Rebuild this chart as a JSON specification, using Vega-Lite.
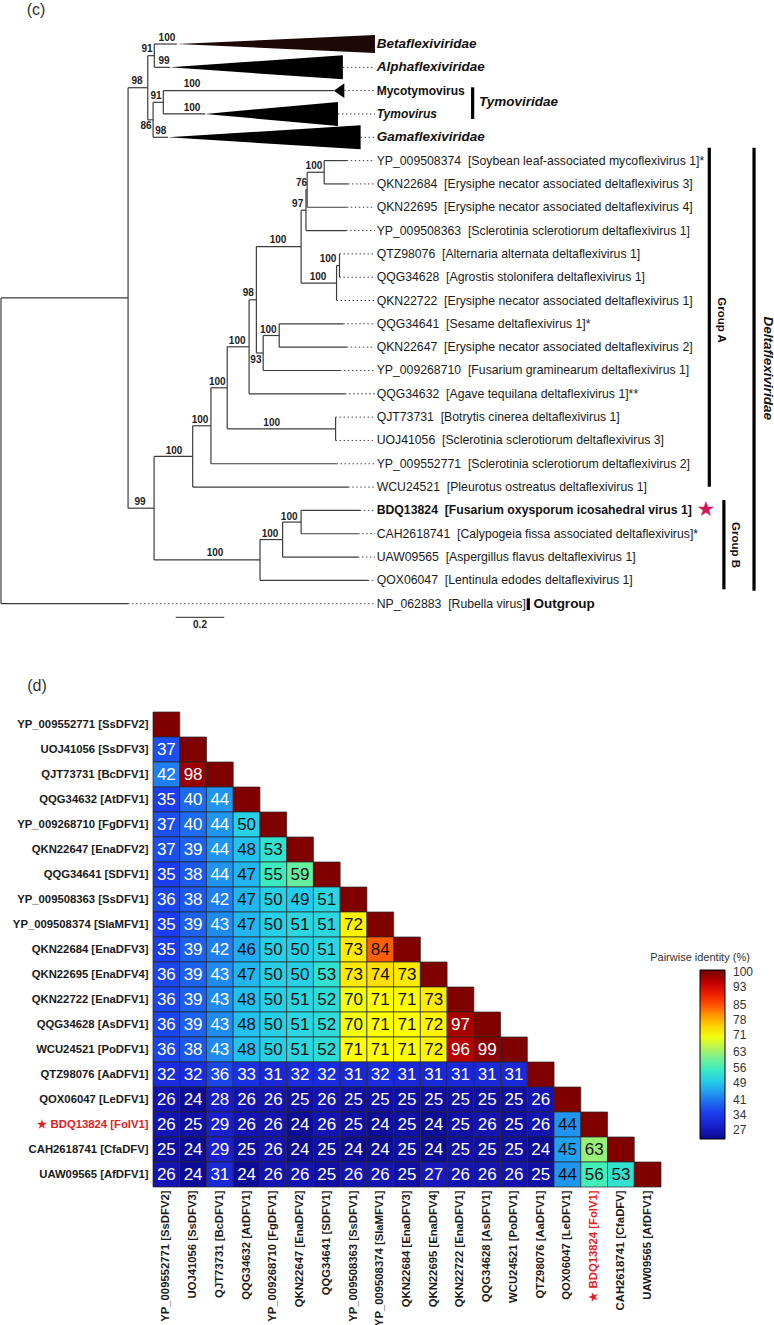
{
"$schema": "https://vega.github.io/schema/vega-lite/v6.json",
"padding": 0,
"autosize": {"type": "pad"},
"background": "white",
"spacing": 11,
"config": {"view": {"stroke": null}, "font": "Liberation Sans"},
"datasets": {
"edges": [
{"x":0,"x2":0,"y":11.89,"y2":25},{"x":0,"x2":0.523,"y":11.89,"y2":11.89},{"x":0,"x2":0.523,"y":25,"y2":25},
{"x":0.523,"x2":0.523,"y":2.875,"y2":20.905},{"x":0.523,"x2":0.604,"y":2.875,"y2":2.875},{"x":0.523,"x2":0.630,"y":20.905,"y2":20.905},
{"x":0.604,"x2":0.604,"y":1.5,"y2":4.25},{"x":0.604,"x2":0.631,"y":1.5,"y2":1.5},{"x":0.604,"x2":0.626,"y":4.25,"y2":4.25},
{"x":0.631,"x2":0.631,"y":1,"y2":2},{"x":0.631,"x2":0.724,"y":1,"y2":1},{"x":0.631,"x2":0.695,"y":2,"y2":2},
{"x":0.626,"x2":0.626,"y":3.5,"y2":5},{"x":0.626,"x2":0.668,"y":3.5,"y2":3.5},{"x":0.626,"x2":0.687,"y":5,"y2":5},
{"x":0.668,"x2":0.668,"y":3,"y2":4},{"x":0.668,"x2":1.370,"y":3,"y2":3},{"x":0.668,"x2":0.840,"y":4,"y2":4},
{"x":0.630,"x2":0.630,"y":18.686,"y2":23.125},{"x":0.630,"x2":0.789,"y":18.686,"y2":18.686},{"x":0.630,"x2":1.066,"y":23.125,"y2":23.125},
{"x":0.789,"x2":0.789,"y":17.371,"y2":20},{"x":0.789,"x2":0.864,"y":17.371,"y2":17.371},{"x":0.789,"x2":1.429,"y":20,"y2":20},
{"x":0.864,"x2":0.864,"y":15.742,"y2":19},{"x":0.864,"x2":0.931,"y":15.742,"y2":15.742},{"x":0.864,"x2":1.381,"y":19,"y2":19},
{"x":0.931,"x2":0.931,"y":13.984,"y2":17.5},{"x":0.931,"x2":1.021,"y":13.984,"y2":13.984},{"x":0.931,"x2":1.377,"y":17.5,"y2":17.5},
{"x":1.377,"x2":1.377,"y":17,"y2":18},
{"x":1.021,"x2":1.021,"y":11.969,"y2":16},{"x":1.021,"x2":1.051,"y":11.969,"y2":11.969},{"x":1.021,"x2":1.416,"y":16,"y2":16},
{"x":1.051,"x2":1.051,"y":9.688,"y2":14.25},{"x":1.051,"x2":1.235,"y":9.688,"y2":9.688},{"x":1.051,"x2":1.079,"y":14.25,"y2":14.25},
{"x":1.235,"x2":1.235,"y":8.125,"y2":11.25},{"x":1.235,"x2":1.255,"y":8.125,"y2":8.125},{"x":1.235,"x2":1.381,"y":11.25,"y2":11.25},
{"x":1.255,"x2":1.255,"y":7.25,"y2":9},{"x":1.255,"x2":1.260,"y":7.25,"y2":7.25},{"x":1.255,"x2":1.420,"y":9,"y2":9},
{"x":1.260,"x2":1.260,"y":6.5,"y2":8},{"x":1.260,"x2":1.330,"y":6.5,"y2":6.5},{"x":1.260,"x2":1.423,"y":8,"y2":8},
{"x":1.330,"x2":1.330,"y":6,"y2":7},{"x":1.330,"x2":1.423,"y":6,"y2":6},{"x":1.330,"x2":1.428,"y":7,"y2":7},
{"x":1.381,"x2":1.381,"y":10.5,"y2":12},{"x":1.381,"x2":1.393,"y":10.5,"y2":10.5},
{"x":1.393,"x2":1.393,"y":10,"y2":11},
{"x":1.079,"x2":1.079,"y":13.5,"y2":15},{"x":1.079,"x2":1.145,"y":13.5,"y2":13.5},{"x":1.079,"x2":1.395,"y":15,"y2":15},
{"x":1.145,"x2":1.145,"y":13,"y2":14},{"x":1.145,"x2":1.409,"y":13,"y2":13},{"x":1.145,"x2":1.423,"y":14,"y2":14},
{"x":1.066,"x2":1.066,"y":22.25,"y2":24},{"x":1.066,"x2":1.159,"y":22.25,"y2":22.25},{"x":1.066,"x2":1.510,"y":24,"y2":24},
{"x":1.159,"x2":1.159,"y":21.5,"y2":23},{"x":1.159,"x2":1.235,"y":21.5,"y2":21.5},{"x":1.159,"x2":1.469,"y":23,"y2":23},
{"x":1.235,"x2":1.235,"y":21,"y2":22},{"x":1.235,"x2":1.477,"y":21,"y2":21},{"x":1.235,"x2":1.470,"y":22,"y2":22}
],
"leaders": [
{"y":2,"x":1.407,"x2":1.539},{"y":3,"x":1.413,"x2":1.539},{"y":4,"x":1.387,"x2":1.539},{"y":5,"x":1.480,"x2":1.539},
{"y":6,"x":1.423,"x2":1.539},{"y":7,"x":1.428,"x2":1.539},{"y":8,"x":1.423,"x2":1.539},{"y":9,"x":1.420,"x2":1.539},
{"y":10,"x":1.393,"x2":1.539},{"y":11,"x":1.393,"x2":1.539},{"y":12,"x":1.381,"x2":1.539},{"y":13,"x":1.409,"x2":1.539},
{"y":14,"x":1.423,"x2":1.539},{"y":15,"x":1.395,"x2":1.539},{"y":16,"x":1.416,"x2":1.539},{"y":17,"x":1.377,"x2":1.539},
{"y":18,"x":1.377,"x2":1.539},{"y":19,"x":1.381,"x2":1.539},{"y":20,"x":1.429,"x2":1.539},{"y":21,"x":1.477,"x2":1.539},
{"y":22,"x":1.470,"x2":1.539},{"y":23,"x":1.469,"x2":1.539},{"y":24,"x":1.510,"x2":1.539},{"y":25,"x":0.523,"x2":1.539}
],
"clades": [
{"clade":"Betaflexiviridae","x":0.724,"y":1,"y2":1},{"clade":"Betaflexiviridae","x":1.539,"y":0.614,"y2":1.386},
{"clade":"Alphaflexiviridae","x":0.695,"y":2,"y2":2},{"clade":"Alphaflexiviridae","x":1.407,"y":1.485,"y2":2.515},
{"clade":"Mycotymovirus","x":1.370,"y":3,"y2":3},{"clade":"Mycotymovirus","x":1.413,"y":2.685,"y2":3.315},
{"clade":"Tymovirus","x":0.840,"y":4,"y2":4},{"clade":"Tymovirus","x":1.387,"y":3.485,"y2":4.515},
{"clade":"Gamaflexiviridae","x":0.687,"y":5,"y2":5},{"clade":"Gamaflexiviridae","x":1.480,"y":4.485,"y2":5.515}
],
"support": [
{"x":0.683,"y":0.743,"label":"100"},{"x":0.671,"y":1.729,"label":"99"},{"x":0.601,"y":1.214,"label":"91"},
{"x":0.560,"y":2.587,"label":"98"},{"x":0.786,"y":2.715,"label":"100"},{"x":0.638,"y":3.230,"label":"91"},
{"x":0.786,"y":3.744,"label":"100"},{"x":0.597,"y":4.516,"label":"86"},{"x":0.658,"y":4.731,"label":"98"},
{"x":1.288,"y":6.232,"label":"100"},{"x":1.237,"y":6.973,"label":"76"},{"x":1.221,"y":7.861,"label":"97"},
{"x":1.140,"y":9.405,"label":"100"},{"x":1.346,"y":10.220,"label":"100"},{"x":1.305,"y":10.991,"label":"100"},
{"x":1.018,"y":11.690,"label":"98"},{"x":1.100,"y":13.264,"label":"100"},{"x":0.972,"y":13.723,"label":"100"},
{"x":1.049,"y":14.551,"label":"93"},{"x":0.890,"y":15.507,"label":"100"},{"x":0.819,"y":17.123,"label":"100"},
{"x":1.114,"y":17.239,"label":"100"},{"x":0.712,"y":18.440,"label":"100"},{"x":0.572,"y":20.627,"label":"99"},
{"x":1.186,"y":21.270,"label":"100"},{"x":1.107,"y":22.012,"label":"100"},{"x":0.881,"y":22.840,"label":"100"}
],
"leaves": [
{"y":1,"x":1.546,"kind":"family","label":"Betaflexiviridae"},
{"y":2,"x":1.546,"kind":"family","label":"Alphaflexiviridae"},
{"y":3,"x":1.546,"kind":"genus","label":"Mycotymovirus"},
{"y":4,"x":1.546,"kind":"genus-italic","label":"Tymovirus"},
{"y":5,"x":1.546,"kind":"family","label":"Gamaflexiviridae"},
{"y":6,"x":1.546,"kind":"sequence","label":"YP_009508374\u00a0\u00a0[Soybean leaf-associated mycoflexivirus 1]*"},
{"y":7,"x":1.546,"kind":"sequence","label":"QKN22684\u00a0\u00a0[Erysiphe necator associated deltaflexivirus 3]"},
{"y":8,"x":1.546,"kind":"sequence","label":"QKN22695\u00a0\u00a0[Erysiphe necator associated deltaflexivirus 4]"},
{"y":9,"x":1.546,"kind":"sequence","label":"YP_009508363\u00a0\u00a0[Sclerotinia sclerotiorum deltaflexivirus 1]"},
{"y":10,"x":1.546,"kind":"sequence","label":"QTZ98076\u00a0\u00a0[Alternaria alternata deltaflexivirus 1]"},
{"y":11,"x":1.546,"kind":"sequence","label":"QQG34628\u00a0\u00a0[Agrostis stolonifera deltaflexivirus 1]"},
{"y":12,"x":1.546,"kind":"sequence","label":"QKN22722\u00a0\u00a0[Erysiphe necator associated deltaflexivirus 1]"},
{"y":13,"x":1.546,"kind":"sequence","label":"QQG34641\u00a0\u00a0[Sesame deltaflexivirus 1]*"},
{"y":14,"x":1.546,"kind":"sequence","label":"QKN22647\u00a0\u00a0[Erysiphe necator associated deltaflexivirus 2]"},
{"y":15,"x":1.546,"kind":"sequence","label":"YP_009268710\u00a0\u00a0[Fusarium graminearum deltaflexivirus 1]"},
{"y":16,"x":1.546,"kind":"sequence","label":"QQG34632\u00a0\u00a0[Agave tequilana deltaflexivirus 1]**"},
{"y":17,"x":1.546,"kind":"sequence","label":"QJT73731\u00a0\u00a0[Botrytis cinerea deltaflexivirus 1]"},
{"y":18,"x":1.546,"kind":"sequence","label":"UOJ41056\u00a0\u00a0[Sclerotinia sclerotiorum deltaflexivirus 3]"},
{"y":19,"x":1.546,"kind":"sequence","label":"YP_009552771\u00a0\u00a0[Sclerotinia sclerotiorum deltaflexivirus 2]"},
{"y":20,"x":1.546,"kind":"sequence","label":"WCU24521\u00a0\u00a0[Pleurotus ostreatus deltaflexivirus 1]"},
{"y":21,"x":1.546,"kind":"query","label":"BDQ13824\u00a0\u00a0[Fusarium oxysporum icosahedral virus 1]"},
{"y":22,"x":1.546,"kind":"sequence","label":"CAH2618741\u00a0\u00a0[Calypogeia fissa associated deltaflexivirus]*"},
{"y":23,"x":1.546,"kind":"sequence","label":"UAW09565\u00a0\u00a0[Aspergillus flavus deltaflexivirus 1]"},
{"y":24,"x":1.546,"kind":"sequence","label":"QOX06047\u00a0\u00a0[Lentinula edodes deltaflexivirus 1]"},
{"y":25,"x":1.546,"kind":"sequence","label":"NP_062883\u00a0\u00a0[Rubella virus]"}
],
"bars": [
{"group":"Tymoviridae","x":1.941,"y":2.857,"y2":4.216},
{"group":"Group A","x":2.915,"y":5.447,"y2":19.984},
{"group":"Group B","x":2.975,"y":20.554,"y2":24.384},
{"group":"Deltaflexiviridae","x":3.099,"y":5.447,"y2":24.444},
{"group":"Outgroup","x":2.170,"y":24.77,"y2":25.27}
],
"pid": [
{"r":"YP_009552771 [SsDFV2]","c":"YP_009552771 [SsDFV2]","v":100},
{"r":"UOJ41056 [SsDFV3]","c":"YP_009552771 [SsDFV2]","v":37},{"r":"UOJ41056 [SsDFV3]","c":"UOJ41056 [SsDFV3]","v":100},
{"r":"QJT73731 [BcDFV1]","c":"YP_009552771 [SsDFV2]","v":42},{"r":"QJT73731 [BcDFV1]","c":"UOJ41056 [SsDFV3]","v":98},{"r":"QJT73731 [BcDFV1]","c":"QJT73731 [BcDFV1]","v":100},
{"r":"QQG34632 [AtDFV1]","c":"YP_009552771 [SsDFV2]","v":35},{"r":"QQG34632 [AtDFV1]","c":"UOJ41056 [SsDFV3]","v":40},{"r":"QQG34632 [AtDFV1]","c":"QJT73731 [BcDFV1]","v":44},{"r":"QQG34632 [AtDFV1]","c":"QQG34632 [AtDFV1]","v":100},
{"r":"YP_009268710 [FgDFV1]","c":"YP_009552771 [SsDFV2]","v":37},{"r":"YP_009268710 [FgDFV1]","c":"UOJ41056 [SsDFV3]","v":40},{"r":"YP_009268710 [FgDFV1]","c":"QJT73731 [BcDFV1]","v":44},{"r":"YP_009268710 [FgDFV1]","c":"QQG34632 [AtDFV1]","v":50},{"r":"YP_009268710 [FgDFV1]","c":"YP_009268710 [FgDFV1]","v":100},
{"r":"QKN22647 [EnaDFV2]","c":"YP_009552771 [SsDFV2]","v":37},{"r":"QKN22647 [EnaDFV2]","c":"UOJ41056 [SsDFV3]","v":39},{"r":"QKN22647 [EnaDFV2]","c":"QJT73731 [BcDFV1]","v":44},{"r":"QKN22647 [EnaDFV2]","c":"QQG34632 [AtDFV1]","v":48},{"r":"QKN22647 [EnaDFV2]","c":"YP_009268710 [FgDFV1]","v":53},{"r":"QKN22647 [EnaDFV2]","c":"QKN22647 [EnaDFV2]","v":100},
{"r":"QQG34641 [SDFV1]","c":"YP_009552771 [SsDFV2]","v":35},{"r":"QQG34641 [SDFV1]","c":"UOJ41056 [SsDFV3]","v":38},{"r":"QQG34641 [SDFV1]","c":"QJT73731 [BcDFV1]","v":44},{"r":"QQG34641 [SDFV1]","c":"QQG34632 [AtDFV1]","v":47},{"r":"QQG34641 [SDFV1]","c":"YP_009268710 [FgDFV1]","v":55},{"r":"QQG34641 [SDFV1]","c":"QKN22647 [EnaDFV2]","v":59},{"r":"QQG34641 [SDFV1]","c":"QQG34641 [SDFV1]","v":100},
{"r":"YP_009508363 [SsDFV1]","c":"YP_009552771 [SsDFV2]","v":36},{"r":"YP_009508363 [SsDFV1]","c":"UOJ41056 [SsDFV3]","v":38},{"r":"YP_009508363 [SsDFV1]","c":"QJT73731 [BcDFV1]","v":42},{"r":"YP_009508363 [SsDFV1]","c":"QQG34632 [AtDFV1]","v":47},{"r":"YP_009508363 [SsDFV1]","c":"YP_009268710 [FgDFV1]","v":50},{"r":"YP_009508363 [SsDFV1]","c":"QKN22647 [EnaDFV2]","v":49},{"r":"YP_009508363 [SsDFV1]","c":"QQG34641 [SDFV1]","v":51},{"r":"YP_009508363 [SsDFV1]","c":"YP_009508363 [SsDFV1]","v":100},
{"r":"YP_009508374 [SlaMFV1]","c":"YP_009552771 [SsDFV2]","v":35},{"r":"YP_009508374 [SlaMFV1]","c":"UOJ41056 [SsDFV3]","v":39},{"r":"YP_009508374 [SlaMFV1]","c":"QJT73731 [BcDFV1]","v":43},{"r":"YP_009508374 [SlaMFV1]","c":"QQG34632 [AtDFV1]","v":47},{"r":"YP_009508374 [SlaMFV1]","c":"YP_009268710 [FgDFV1]","v":50},{"r":"YP_009508374 [SlaMFV1]","c":"QKN22647 [EnaDFV2]","v":51},{"r":"YP_009508374 [SlaMFV1]","c":"QQG34641 [SDFV1]","v":51},{"r":"YP_009508374 [SlaMFV1]","c":"YP_009508363 [SsDFV1]","v":72},{"r":"YP_009508374 [SlaMFV1]","c":"YP_009508374 [SlaMFV1]","v":100},
{"r":"QKN22684 [EnaDFV3]","c":"YP_009552771 [SsDFV2]","v":35},{"r":"QKN22684 [EnaDFV3]","c":"UOJ41056 [SsDFV3]","v":39},{"r":"QKN22684 [EnaDFV3]","c":"QJT73731 [BcDFV1]","v":42},{"r":"QKN22684 [EnaDFV3]","c":"QQG34632 [AtDFV1]","v":46},{"r":"QKN22684 [EnaDFV3]","c":"YP_009268710 [FgDFV1]","v":50},{"r":"QKN22684 [EnaDFV3]","c":"QKN22647 [EnaDFV2]","v":50},{"r":"QKN22684 [EnaDFV3]","c":"QQG34641 [SDFV1]","v":51},{"r":"QKN22684 [EnaDFV3]","c":"YP_009508363 [SsDFV1]","v":73},{"r":"QKN22684 [EnaDFV3]","c":"YP_009508374 [SlaMFV1]","v":84},{"r":"QKN22684 [EnaDFV3]","c":"QKN22684 [EnaDFV3]","v":100},
{"r":"QKN22695 [EnaDFV4]","c":"YP_009552771 [SsDFV2]","v":36},{"r":"QKN22695 [EnaDFV4]","c":"UOJ41056 [SsDFV3]","v":39},{"r":"QKN22695 [EnaDFV4]","c":"QJT73731 [BcDFV1]","v":43},{"r":"QKN22695 [EnaDFV4]","c":"QQG34632 [AtDFV1]","v":47},{"r":"QKN22695 [EnaDFV4]","c":"YP_009268710 [FgDFV1]","v":50},{"r":"QKN22695 [EnaDFV4]","c":"QKN22647 [EnaDFV2]","v":50},{"r":"QKN22695 [EnaDFV4]","c":"QQG34641 [SDFV1]","v":53},{"r":"QKN22695 [EnaDFV4]","c":"YP_009508363 [SsDFV1]","v":73},{"r":"QKN22695 [EnaDFV4]","c":"YP_009508374 [SlaMFV1]","v":74},{"r":"QKN22695 [EnaDFV4]","c":"QKN22684 [EnaDFV3]","v":73},{"r":"QKN22695 [EnaDFV4]","c":"QKN22695 [EnaDFV4]","v":100},
{"r":"QKN22722 [EnaDFV1]","c":"YP_009552771 [SsDFV2]","v":36},{"r":"QKN22722 [EnaDFV1]","c":"UOJ41056 [SsDFV3]","v":39},{"r":"QKN22722 [EnaDFV1]","c":"QJT73731 [BcDFV1]","v":43},{"r":"QKN22722 [EnaDFV1]","c":"QQG34632 [AtDFV1]","v":48},{"r":"QKN22722 [EnaDFV1]","c":"YP_009268710 [FgDFV1]","v":50},{"r":"QKN22722 [EnaDFV1]","c":"QKN22647 [EnaDFV2]","v":51},{"r":"QKN22722 [EnaDFV1]","c":"QQG34641 [SDFV1]","v":52},{"r":"QKN22722 [EnaDFV1]","c":"YP_009508363 [SsDFV1]","v":70},{"r":"QKN22722 [EnaDFV1]","c":"YP_009508374 [SlaMFV1]","v":71},{"r":"QKN22722 [EnaDFV1]","c":"QKN22684 [EnaDFV3]","v":71},{"r":"QKN22722 [EnaDFV1]","c":"QKN22695 [EnaDFV4]","v":73},{"r":"QKN22722 [EnaDFV1]","c":"QKN22722 [EnaDFV1]","v":100},
{"r":"QQG34628 [AsDFV1]","c":"YP_009552771 [SsDFV2]","v":36},{"r":"QQG34628 [AsDFV1]","c":"UOJ41056 [SsDFV3]","v":39},{"r":"QQG34628 [AsDFV1]","c":"QJT73731 [BcDFV1]","v":43},{"r":"QQG34628 [AsDFV1]","c":"QQG34632 [AtDFV1]","v":48},{"r":"QQG34628 [AsDFV1]","c":"YP_009268710 [FgDFV1]","v":50},{"r":"QQG34628 [AsDFV1]","c":"QKN22647 [EnaDFV2]","v":51},{"r":"QQG34628 [AsDFV1]","c":"QQG34641 [SDFV1]","v":52},{"r":"QQG34628 [AsDFV1]","c":"YP_009508363 [SsDFV1]","v":70},{"r":"QQG34628 [AsDFV1]","c":"YP_009508374 [SlaMFV1]","v":71},{"r":"QQG34628 [AsDFV1]","c":"QKN22684 [EnaDFV3]","v":71},{"r":"QQG34628 [AsDFV1]","c":"QKN22695 [EnaDFV4]","v":72},{"r":"QQG34628 [AsDFV1]","c":"QKN22722 [EnaDFV1]","v":97},{"r":"QQG34628 [AsDFV1]","c":"QQG34628 [AsDFV1]","v":100},
{"r":"WCU24521 [PoDFV1]","c":"YP_009552771 [SsDFV2]","v":36},{"r":"WCU24521 [PoDFV1]","c":"UOJ41056 [SsDFV3]","v":38},{"r":"WCU24521 [PoDFV1]","c":"QJT73731 [BcDFV1]","v":43},{"r":"WCU24521 [PoDFV1]","c":"QQG34632 [AtDFV1]","v":48},{"r":"WCU24521 [PoDFV1]","c":"YP_009268710 [FgDFV1]","v":50},{"r":"WCU24521 [PoDFV1]","c":"QKN22647 [EnaDFV2]","v":51},{"r":"WCU24521 [PoDFV1]","c":"QQG34641 [SDFV1]","v":52},{"r":"WCU24521 [PoDFV1]","c":"YP_009508363 [SsDFV1]","v":71},{"r":"WCU24521 [PoDFV1]","c":"YP_009508374 [SlaMFV1]","v":71},{"r":"WCU24521 [PoDFV1]","c":"QKN22684 [EnaDFV3]","v":71},{"r":"WCU24521 [PoDFV1]","c":"QKN22695 [EnaDFV4]","v":72},{"r":"WCU24521 [PoDFV1]","c":"QKN22722 [EnaDFV1]","v":96},{"r":"WCU24521 [PoDFV1]","c":"QQG34628 [AsDFV1]","v":99},{"r":"WCU24521 [PoDFV1]","c":"WCU24521 [PoDFV1]","v":100},
{"r":"QTZ98076 [AaDFV1]","c":"YP_009552771 [SsDFV2]","v":32},{"r":"QTZ98076 [AaDFV1]","c":"UOJ41056 [SsDFV3]","v":32},{"r":"QTZ98076 [AaDFV1]","c":"QJT73731 [BcDFV1]","v":36},{"r":"QTZ98076 [AaDFV1]","c":"QQG34632 [AtDFV1]","v":33},{"r":"QTZ98076 [AaDFV1]","c":"YP_009268710 [FgDFV1]","v":31},{"r":"QTZ98076 [AaDFV1]","c":"QKN22647 [EnaDFV2]","v":32},{"r":"QTZ98076 [AaDFV1]","c":"QQG34641 [SDFV1]","v":32},{"r":"QTZ98076 [AaDFV1]","c":"YP_009508363 [SsDFV1]","v":31},{"r":"QTZ98076 [AaDFV1]","c":"YP_009508374 [SlaMFV1]","v":32},{"r":"QTZ98076 [AaDFV1]","c":"QKN22684 [EnaDFV3]","v":31},{"r":"QTZ98076 [AaDFV1]","c":"QKN22695 [EnaDFV4]","v":31},{"r":"QTZ98076 [AaDFV1]","c":"QKN22722 [EnaDFV1]","v":31},{"r":"QTZ98076 [AaDFV1]","c":"QQG34628 [AsDFV1]","v":31},{"r":"QTZ98076 [AaDFV1]","c":"WCU24521 [PoDFV1]","v":31},{"r":"QTZ98076 [AaDFV1]","c":"QTZ98076 [AaDFV1]","v":100},
{"r":"QOX06047 [LeDFV1]","c":"YP_009552771 [SsDFV2]","v":26},{"r":"QOX06047 [LeDFV1]","c":"UOJ41056 [SsDFV3]","v":24},{"r":"QOX06047 [LeDFV1]","c":"QJT73731 [BcDFV1]","v":28},{"r":"QOX06047 [LeDFV1]","c":"QQG34632 [AtDFV1]","v":26},{"r":"QOX06047 [LeDFV1]","c":"YP_009268710 [FgDFV1]","v":26},{"r":"QOX06047 [LeDFV1]","c":"QKN22647 [EnaDFV2]","v":25},{"r":"QOX06047 [LeDFV1]","c":"QQG34641 [SDFV1]","v":26},{"r":"QOX06047 [LeDFV1]","c":"YP_009508363 [SsDFV1]","v":25},{"r":"QOX06047 [LeDFV1]","c":"YP_009508374 [SlaMFV1]","v":25},{"r":"QOX06047 [LeDFV1]","c":"QKN22684 [EnaDFV3]","v":25},{"r":"QOX06047 [LeDFV1]","c":"QKN22695 [EnaDFV4]","v":25},{"r":"QOX06047 [LeDFV1]","c":"QKN22722 [EnaDFV1]","v":25},{"r":"QOX06047 [LeDFV1]","c":"QQG34628 [AsDFV1]","v":25},{"r":"QOX06047 [LeDFV1]","c":"WCU24521 [PoDFV1]","v":25},{"r":"QOX06047 [LeDFV1]","c":"QTZ98076 [AaDFV1]","v":26},{"r":"QOX06047 [LeDFV1]","c":"QOX06047 [LeDFV1]","v":100},
{"r":"★ BDQ13824 [FolV1]","c":"YP_009552771 [SsDFV2]","v":26},{"r":"★ BDQ13824 [FolV1]","c":"UOJ41056 [SsDFV3]","v":25},{"r":"★ BDQ13824 [FolV1]","c":"QJT73731 [BcDFV1]","v":29},{"r":"★ BDQ13824 [FolV1]","c":"QQG34632 [AtDFV1]","v":26},{"r":"★ BDQ13824 [FolV1]","c":"YP_009268710 [FgDFV1]","v":26},{"r":"★ BDQ13824 [FolV1]","c":"QKN22647 [EnaDFV2]","v":24},{"r":"★ BDQ13824 [FolV1]","c":"QQG34641 [SDFV1]","v":26},{"r":"★ BDQ13824 [FolV1]","c":"YP_009508363 [SsDFV1]","v":25},{"r":"★ BDQ13824 [FolV1]","c":"YP_009508374 [SlaMFV1]","v":24},{"r":"★ BDQ13824 [FolV1]","c":"QKN22684 [EnaDFV3]","v":25},{"r":"★ BDQ13824 [FolV1]","c":"QKN22695 [EnaDFV4]","v":24},{"r":"★ BDQ13824 [FolV1]","c":"QKN22722 [EnaDFV1]","v":25},{"r":"★ BDQ13824 [FolV1]","c":"QQG34628 [AsDFV1]","v":26},{"r":"★ BDQ13824 [FolV1]","c":"WCU24521 [PoDFV1]","v":25},{"r":"★ BDQ13824 [FolV1]","c":"QTZ98076 [AaDFV1]","v":26},{"r":"★ BDQ13824 [FolV1]","c":"QOX06047 [LeDFV1]","v":44},{"r":"★ BDQ13824 [FolV1]","c":"★ BDQ13824 [FolV1]","v":100},
{"r":"CAH2618741 [CfaDFV]","c":"YP_009552771 [SsDFV2]","v":25},{"r":"CAH2618741 [CfaDFV]","c":"UOJ41056 [SsDFV3]","v":24},{"r":"CAH2618741 [CfaDFV]","c":"QJT73731 [BcDFV1]","v":29},{"r":"CAH2618741 [CfaDFV]","c":"QQG34632 [AtDFV1]","v":25},{"r":"CAH2618741 [CfaDFV]","c":"YP_009268710 [FgDFV1]","v":26},{"r":"CAH2618741 [CfaDFV]","c":"QKN22647 [EnaDFV2]","v":24},{"r":"CAH2618741 [CfaDFV]","c":"QQG34641 [SDFV1]","v":25},{"r":"CAH2618741 [CfaDFV]","c":"YP_009508363 [SsDFV1]","v":24},{"r":"CAH2618741 [CfaDFV]","c":"YP_009508374 [SlaMFV1]","v":24},{"r":"CAH2618741 [CfaDFV]","c":"QKN22684 [EnaDFV3]","v":25},{"r":"CAH2618741 [CfaDFV]","c":"QKN22695 [EnaDFV4]","v":24},{"r":"CAH2618741 [CfaDFV]","c":"QKN22722 [EnaDFV1]","v":25},{"r":"CAH2618741 [CfaDFV]","c":"QQG34628 [AsDFV1]","v":25},{"r":"CAH2618741 [CfaDFV]","c":"WCU24521 [PoDFV1]","v":25},{"r":"CAH2618741 [CfaDFV]","c":"QTZ98076 [AaDFV1]","v":24},{"r":"CAH2618741 [CfaDFV]","c":"QOX06047 [LeDFV1]","v":45},{"r":"CAH2618741 [CfaDFV]","c":"★ BDQ13824 [FolV1]","v":63},{"r":"CAH2618741 [CfaDFV]","c":"CAH2618741 [CfaDFV]","v":100},
{"r":"UAW09565 [AfDFV1]","c":"YP_009552771 [SsDFV2]","v":26},{"r":"UAW09565 [AfDFV1]","c":"UOJ41056 [SsDFV3]","v":24},{"r":"UAW09565 [AfDFV1]","c":"QJT73731 [BcDFV1]","v":31},{"r":"UAW09565 [AfDFV1]","c":"QQG34632 [AtDFV1]","v":24},{"r":"UAW09565 [AfDFV1]","c":"YP_009268710 [FgDFV1]","v":26},{"r":"UAW09565 [AfDFV1]","c":"QKN22647 [EnaDFV2]","v":26},{"r":"UAW09565 [AfDFV1]","c":"QQG34641 [SDFV1]","v":25},{"r":"UAW09565 [AfDFV1]","c":"YP_009508363 [SsDFV1]","v":26},{"r":"UAW09565 [AfDFV1]","c":"YP_009508374 [SlaMFV1]","v":26},{"r":"UAW09565 [AfDFV1]","c":"QKN22684 [EnaDFV3]","v":25},{"r":"UAW09565 [AfDFV1]","c":"QKN22695 [EnaDFV4]","v":27},{"r":"UAW09565 [AfDFV1]","c":"QKN22722 [EnaDFV1]","v":26},{"r":"UAW09565 [AfDFV1]","c":"QQG34628 [AsDFV1]","v":26},{"r":"UAW09565 [AfDFV1]","c":"WCU24521 [PoDFV1]","v":26},{"r":"UAW09565 [AfDFV1]","c":"QTZ98076 [AaDFV1]","v":25},{"r":"UAW09565 [AfDFV1]","c":"QOX06047 [LeDFV1]","v":44},{"r":"UAW09565 [AfDFV1]","c":"★ BDQ13824 [FolV1]","v":56},{"r":"UAW09565 [AfDFV1]","c":"CAH2618741 [CfaDFV]","v":53},{"r":"UAW09565 [AfDFV1]","c":"UAW09565 [AfDFV1]","v":100}
]
},
"vconcat": [
{
"width": 621,
"height": 700,
"encoding": {
"x": {"field": "x", "type": "quantitative", "scale": {"domain": [0.6256, 3.1812], "nice": false, "zero": false}, "axis": null},
"y": {"field": "y", "type": "quantitative", "scale": {"domain": [-0.887, 29.13], "nice": false, "zero": false, "reverse": true}, "axis": null}
},
"layer": [
{"data": {"name": "clades"}, "mark": {"type": "area", "orient": "vertical", "interpolate": "linear", "clip": false},
 "encoding": {"y2": {"field": "y2"}, "detail": {"field": "clade", "type": "nominal"},
  "color": {"condition": {"test": "datum.clade === 'Betaflexiviridae'", "value": "#1e0707"}, "value": "#000000"}}},
{"data": {"name": "edges"}, "mark": {"type": "rule", "color": "#3c3c3c", "strokeWidth": 1.2, "clip": false},
 "encoding": {"x2": {"field": "x2"}, "y2": {"field": "y2"}}},
{"data": {"name": "leaders"}, "mark": {"type": "rule", "color": "#444444", "strokeWidth": 1, "strokeDash": [1.5, 2.5], "clip": false},
 "encoding": {"x2": {"field": "x2"}}},
{"data": {"name": "bars"}, "mark": {"type": "rule", "color": "#000000", "strokeWidth": 3.2},
 "encoding": {"y2": {"field": "y2"}}},
{"data": {"values": [{"x": 0.719, "x2": 0.919, "y": 25.584}]}, "mark": {"type": "rule", "color": "#555555", "strokeWidth": 1.3},
 "encoding": {"x2": {"field": "x2"}}},
{"data": {"name": "support"}, "mark": {"type": "text", "fontSize": 10, "fontWeight": "bold", "color": "#222222", "align": "center", "baseline": "middle"},
 "encoding": {"text": {"field": "label"}}},
{"data": {"name": "leaves"}, "transform": [{"filter": "datum.kind === 'sequence'"}],
 "mark": {"type": "text", "fontSize": 12.25, "color": "#1a1a1a", "align": "left", "baseline": "middle"},
 "encoding": {"text": {"field": "label"}}},
{"data": {"name": "leaves"}, "transform": [{"filter": "datum.kind === 'query'"}],
 "mark": {"type": "text", "fontSize": 12.25, "fontWeight": "bold", "color": "#111111", "align": "left", "baseline": "middle"},
 "encoding": {"text": {"field": "label"}}},
{"data": {"name": "leaves"}, "transform": [{"filter": "datum.kind === 'family'"}],
 "mark": {"type": "text", "fontSize": 13.5, "fontWeight": "bold", "fontStyle": "italic", "color": "#111111", "align": "left", "baseline": "middle"},
 "encoding": {"text": {"field": "label"}}},
{"data": {"name": "leaves"}, "transform": [{"filter": "datum.kind === 'genus'"}],
 "mark": {"type": "text", "fontSize": 12, "fontWeight": "bold", "color": "#111111", "align": "left", "baseline": "middle"},
 "encoding": {"text": {"field": "label"}}},
{"data": {"name": "leaves"}, "transform": [{"filter": "datum.kind === 'genus-italic'"}],
 "mark": {"type": "text", "fontSize": 12, "fontWeight": "bold", "fontStyle": "italic", "color": "#111111", "align": "left", "baseline": "middle"},
 "encoding": {"text": {"field": "label"}}},
{"data": {"values": [{"x": 2.901, "y": 21, "label": "★"}]},
 "mark": {"type": "text", "fontSize": 21, "font": "DejaVu Sans", "color": "#d3175b", "align": "center", "baseline": "middle"},
 "encoding": {"text": {"field": "label"}}},
{"data": {"values": [{"x": 1.967, "y": 3.474, "label": "Tymoviridae"}]},
 "mark": {"type": "text", "fontSize": 13.5, "fontWeight": "bold", "fontStyle": "italic", "color": "#111111", "align": "left", "baseline": "middle"},
 "encoding": {"text": {"field": "label"}}},
{"data": {"values": [{"x": 2.191, "y": 25.013, "label": "Outgroup"}]},
 "mark": {"type": "text", "fontSize": 13.5, "fontWeight": "bold", "color": "#111111", "align": "left", "baseline": "middle"},
 "encoding": {"text": {"field": "label"}}},
{"data": {"values": [{"x": 2.962, "y": 12.835, "label": "Group A"}, {"x": 3.021, "y": 22.484, "label": "Group B"}]},
 "mark": {"type": "text", "fontSize": 11.5, "fontWeight": "bold", "angle": 90, "color": "#111111", "align": "center", "baseline": "middle"},
 "encoding": {"text": {"field": "label"}}},
{"data": {"values": [{"x": 3.158, "y": 14.907, "label": "Deltaflexiviridae"}]},
 "mark": {"type": "text", "fontSize": 13.5, "fontWeight": "bold", "fontStyle": "italic", "angle": 90, "color": "#111111", "align": "center", "baseline": "middle"},
 "encoding": {"text": {"field": "label"}}},
{"data": {"values": [{"x": 0.819, "y": 25.914, "label": "0.2"}]},
 "mark": {"type": "text", "fontSize": 10, "fontWeight": "bold", "color": "#222222", "align": "center", "baseline": "middle"},
 "encoding": {"text": {"field": "label"}}},
{"data": {"values": [{"x": 0.144, "y": -0.479, "label": "(c)"}, {"x": 0.148, "y": 28.53, "label": "(d)"}]},
 "mark": {"type": "text", "fontSize": 16, "color": "#333333", "align": "center", "baseline": "middle"},
 "encoding": {"text": {"field": "label"}}}
]
},
{
"width": 508,
"height": 475,
"data": {"name": "pid"},
"encoding": {
"x": {"field": "c", "type": "nominal",
 "sort": ["YP_009552771 [SsDFV2]","UOJ41056 [SsDFV3]","QJT73731 [BcDFV1]","QQG34632 [AtDFV1]","YP_009268710 [FgDFV1]","QKN22647 [EnaDFV2]","QQG34641 [SDFV1]","YP_009508363 [SsDFV1]","YP_009508374 [SlaMFV1]","QKN22684 [EnaDFV3]","QKN22695 [EnaDFV4]","QKN22722 [EnaDFV1]","QQG34628 [AsDFV1]","WCU24521 [PoDFV1]","QTZ98076 [AaDFV1]","QOX06047 [LeDFV1]","★ BDQ13824 [FolV1]","CAH2618741 [CfaDFV]","UAW09565 [AfDFV1]"],
 "scale": {"paddingInner": 0, "paddingOuter": 0},
 "axis": {"title": null, "orient": "bottom", "labelAngle": -90, "labelAlign": "right", "labelBaseline": "middle", "labelFontSize": 11.3, "labelFontWeight": "bold", "labelPadding": 3, "ticks": false, "domain": false, "labelLimit": 0,
  "labelColor": {"condition": {"test": "datum.value === '★ BDQ13824 [FolV1]'", "value": "#e3211e"}, "value": "#1a1a1a"}}},
"y": {"field": "r", "type": "nominal",
 "sort": ["YP_009552771 [SsDFV2]","UOJ41056 [SsDFV3]","QJT73731 [BcDFV1]","QQG34632 [AtDFV1]","YP_009268710 [FgDFV1]","QKN22647 [EnaDFV2]","QQG34641 [SDFV1]","YP_009508363 [SsDFV1]","YP_009508374 [SlaMFV1]","QKN22684 [EnaDFV3]","QKN22695 [EnaDFV4]","QKN22722 [EnaDFV1]","QQG34628 [AsDFV1]","WCU24521 [PoDFV1]","QTZ98076 [AaDFV1]","QOX06047 [LeDFV1]","★ BDQ13824 [FolV1]","CAH2618741 [CfaDFV]","UAW09565 [AfDFV1]"],
 "scale": {"paddingInner": 0, "paddingOuter": 0},
 "axis": {"title": null, "labelFontSize": 11.3, "labelFontWeight": "bold", "labelPadding": 5, "ticks": false, "domain": false, "labelLimit": 0,
  "labelColor": {"condition": {"test": "datum.value === '★ BDQ13824 [FolV1]'", "value": "#e3211e"}, "value": "#1a1a1a"}}}
},
"layer": [
{"mark": {"type": "rect", "stroke": "#262626", "strokeWidth": 0.7},
 "encoding": {"color": {"field": "v", "type": "quantitative",
  "scale": {"domain": [23, 27, 34, 41, 49, 56, 63, 71, 78, 85, 93, 100, 101], "range": ["#08088c", "#1818c0", "#1a34ec", "#1e74f0", "#22ccf0", "#40f0b8", "#98f078", "#ffff00", "#ffb400", "#ff5000", "#e00000", "#800000", "#700000"], "interpolate": "rgb"},
  "legend": {"title": "Pairwise identity (%)", "orient": "none", "legendX": 497, "legendY": 951.5, "direction": "vertical",
   "gradientLength": 169, "gradientThickness": 25, "gradientStrokeColor": "#000000", "gradientStrokeWidth": 1,
   "values": [27, 34, 41, 49, 56, 63, 71, 78, 85, 93, 100], "labelOverlap": false, "labelFontSize": 12, "labelColor": "#333333", "labelOffset": 8,
   "titleFontSize": 11, "titleFontWeight": "normal", "titleColor": "#333333", "titlePadding": 7.5, "titleAnchor": "start", "titleAlign": "center"}}}},
{"transform": [{"filter": "datum.r !== datum.c"}],
 "mark": {"type": "text", "fontSize": 17, "align": "center", "baseline": "middle"},
 "encoding": {"text": {"field": "v", "type": "quantitative"},
  "color": {"condition": {"test": "datum.v >= 90 || (datum.v < 45 && datum.c !== 'QOX06047 [LeDFV1]')", "value": "#ffffff"}, "value": "#111111"}}}
]
}
]
}
